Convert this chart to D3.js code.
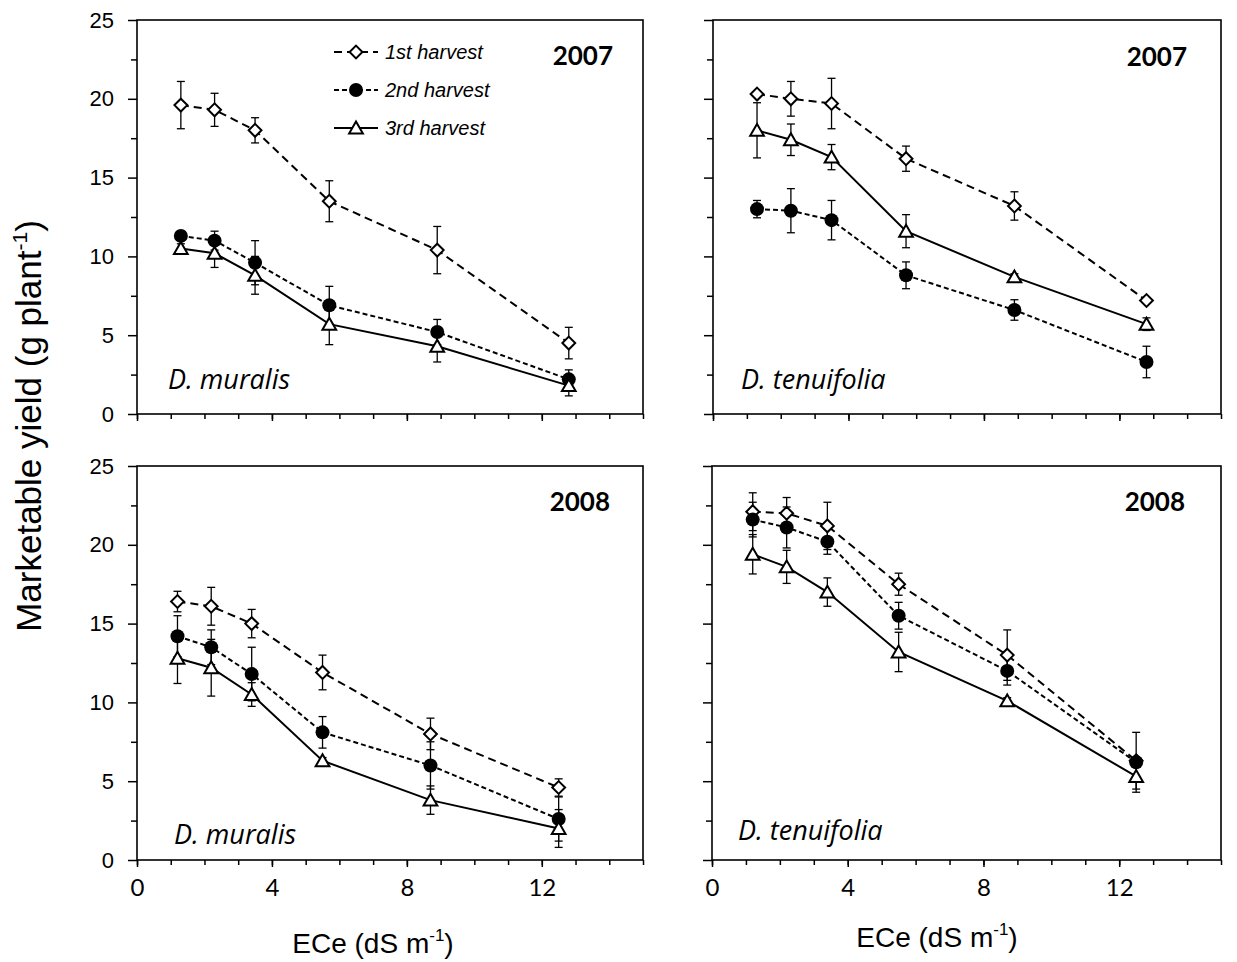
<!DOCTYPE html>
<html><head><meta charset="utf-8">
<script src="https://cdn.jsdelivr.net/npm/d3@7"></script>
<style>body{margin:0;background:#fff}svg{display:block}</style>
</head><body>
<svg id="c" width="1237" height="962"></svg>
<script>
// ---- data ----
const ece2007 = [1.3, 2.3, 3.5, 5.7, 8.9, 12.8];
const ece2008 = [1.2, 2.2, 3.4, 5.5, 8.7, 12.5];
const harvests = ["1st harvest", "2nd harvest", "3rd harvest"];
const yTicks = [0, 5, 10, 15, 20, 25];
const xTicks = [0, 4, 8, 12];

// D. muralis 2007
const mur07_h1 = [19.6, 19.3, 18.0, 13.5, 10.4, 4.5];
const mur07_h1_se = [1.5, 1.05, 0.8, 1.3, 1.5, 1.0];
const mur07_h2 = [11.3, 11.0, 9.6, 6.9, 5.2, 2.2];
const mur07_h2_se = [0.3, 0.6, 1.4, 1.2, 0.8, 0.6];
const mur07_h3 = [10.5, 10.2, 8.8, 5.7, 4.3, 1.8];
const mur07_h3_se = [0.3, 0.9, 1.2, 1.3, 1.0, 0.65];
// D. tenuifolia 2007
const ten07_h1 = [20.3, 20.0, 19.7, 16.2, 13.2, 7.2];
const ten07_h1_se = [0.2, 1.1, 1.6, 0.8, 0.9, 0.15];
const ten07_h2 = [13.0, 12.9, 12.3, 8.8, 6.6, 3.3];
const ten07_h2_se = [0.55, 1.4, 1.25, 0.85, 0.65, 1.0];
const ten07_h3 = [18.0, 17.4, 16.3, 11.6, 8.7, 5.7];
const ten07_h3_se = [1.75, 1.0, 0.8, 1.05, 0.2, 0.4];
// D. muralis 2008
const mur08_h1 = [16.4, 16.1, 15.0, 11.9, 8.0, 4.6];
const mur08_h1_se = [0.65, 1.2, 0.9, 1.1, 1.0, 0.55];
const mur08_h2 = [14.2, 13.5, 11.8, 8.1, 6.0, 2.6];
const mur08_h2_se = [1.3, 1.1, 1.7, 1.0, 1.5, 1.4];
const mur08_h3 = [12.8, 12.2, 10.5, 6.3, 3.8, 2.0];
const mur08_h3_se = [1.6, 1.8, 0.75, 0.2, 0.9, 1.2];
// D. tenuifolia 2008
const ten08_h1 = [22.1, 22.0, 21.2, 17.5, 13.0, 6.3];
const ten08_h1_se = [1.2, 1.0, 1.5, 0.7, 1.6, 0.2];
const ten08_h2 = [21.6, 21.1, 20.2, 15.5, 12.0, 6.2];
const ten08_h2_se = [1.1, 1.3, 0.8, 0.85, 0.9, 1.9];
const ten08_h3 = [19.4, 18.6, 17.0, 13.2, 10.1, 5.3];
const ten08_h3_se = [1.25, 1.05, 0.9, 1.25, 0.2, 0.8];

// ---- layout ----
const panels = [
  {x0:137, x1:643, y0:20,  y1:414, ece:ece2007, year:"2007", sp:"D. muralis",
   s:[[mur07_h1,mur07_h1_se],[mur07_h2,mur07_h2_se],[mur07_h3,mur07_h3_se]],
   yLabels:true, xLabels:false, legend:true, yearX:613, yearY:65, spX:168, spY:389},
  {x0:713, x1:1221, y0:20, y1:414, ece:ece2007, year:"2007", sp:"D. tenuifolia",
   s:[[ten07_h1,ten07_h1_se],[ten07_h2,ten07_h2_se],[ten07_h3,ten07_h3_se]],
   yLabels:false, xLabels:false, legend:false, yearX:1187, yearY:66, spX:741, spY:389},
  {x0:137, x1:643, y0:466, y1:860, ece:ece2008, year:"2008", sp:"D. muralis",
   s:[[mur08_h1,mur08_h1_se],[mur08_h2,mur08_h2_se],[mur08_h3,mur08_h3_se]],
   yLabels:true, xLabels:true, legend:false, yearX:610, yearY:511, spX:174, spY:844},
  {x0:712, x1:1221, y0:466, y1:860, ece:ece2008, year:"2008", sp:"D. tenuifolia",
   s:[[ten08_h1,ten08_h1_se],[ten08_h2,ten08_h2_se],[ten08_h3,ten08_h3_se]],
   yLabels:false, xLabels:true, legend:false, yearX:1185, yearY:511, spX:738, spY:840}
];
const dashes = ["8,5", "5,3", null];
const svg = d3.select("#c");

function marker(g, k, cx, cy) {
  if (k === 0) {
    g.append("path").attr("d", d3.symbol(d3.symbolDiamond2, 105)())
      .attr("transform", `translate(${cx},${cy})`)
      .attr("fill", "#fff").attr("stroke", "#000").attr("stroke-width", 2);
  } else if (k === 1) {
    g.append("circle").attr("cx", cx).attr("cy", cy).attr("r", 7).attr("fill", "#000");
  } else {
    g.append("path").attr("d", d3.symbol(d3.symbolTriangle2, 135)())
      .attr("transform", `translate(${cx},${cy + 1.5})`)
      .attr("fill", "#fff").attr("stroke", "#000").attr("stroke-width", 2);
  }
}

panels.forEach(p => {
  const x = d3.scaleLinear().domain([0, 15]).range([p.x0, p.x1]);
  const y = d3.scaleLinear().domain([0, 25]).range([p.y1, p.y0]);
  const g = svg.append("g");

  // minor y ticks
  g.append("g").attr("transform", `translate(${p.x0},0)`)
    .call(d3.axisLeft(y).tickValues(d3.range(2.5, 25, 5)).tickSize(6).tickFormat(""))
    .call(a => a.select(".domain").remove())
    .call(a => a.selectAll("line").attr("stroke-width", 1.5));
  // major y ticks
  g.append("g").attr("transform", `translate(${p.x0},0)`)
    .call(d3.axisLeft(y).tickValues(yTicks).tickSize(9).tickPadding(14).tickFormat(p.yLabels ? d3.format("d") : ""))
    .call(a => a.select(".domain").remove())
    .call(a => a.selectAll("line").attr("stroke-width", 1.5))
    .call(a => a.selectAll("text").attr("font-family", "'Liberation Sans', Arial, sans-serif").attr("font-size", 22).attr("fill", "#000"));
  // minor x ticks
  g.append("g").attr("transform", `translate(0,${p.y1})`)
    .call(d3.axisBottom(x).tickValues(d3.range(0, 16, 1)).tickSize(5).tickFormat(""))
    .call(a => a.select(".domain").remove())
    .call(a => a.selectAll("line").attr("stroke-width", 1.5));
  // major x ticks
  g.append("g").attr("transform", `translate(0,${p.y1})`)
    .call(d3.axisBottom(x).tickValues(xTicks).tickSize(7).tickPadding(12).tickFormat(p.xLabels ? d3.format("d") : ""))
    .call(a => a.select(".domain").remove())
    .call(a => a.selectAll("line").attr("stroke-width", 1.5))
    .call(a => a.selectAll("text").attr("font-family", "Lato, sans-serif").attr("font-size", 24).attr("fill", "#000"));

  // frame
  g.append("rect").attr("x", p.x0).attr("y", p.y0).attr("width", p.x1 - p.x0).attr("height", p.y1 - p.y0)
    .attr("fill", "none").attr("stroke", "#000").attr("stroke-width", 1.6);

  // error bars
  p.s.forEach(([vals, se]) => {
    vals.forEach((v, i) => {
      const cx = x(p.ece[i]);
      const eg = g.append("g").attr("stroke", "#000").attr("stroke-width", 1.3);
      eg.append("line").attr("x1", cx).attr("x2", cx).attr("y1", y(v + se[i])).attr("y2", y(v - se[i]));
      eg.append("line").attr("x1", cx - 4).attr("x2", cx + 4).attr("y1", y(v + se[i])).attr("y2", y(v + se[i]));
      eg.append("line").attr("x1", cx - 4).attr("x2", cx + 4).attr("y1", y(v - se[i])).attr("y2", y(v - se[i]));
    });
  });
  // lines
  const line = d3.line().x((d, i) => x(p.ece[i])).y(d => y(d));
  p.s.forEach(([vals], k) => {
    g.append("path").datum(vals).attr("d", line).attr("fill", "none").attr("stroke", "#000")
      .attr("stroke-width", 2).attr("stroke-dasharray", dashes[k]);
  });
  // markers
  p.s.forEach(([vals], k) => {
    vals.forEach((v, i) => marker(g, k, x(p.ece[i]), y(v)));
  });

  // year
  g.append("text").attr("x", p.yearX).attr("y", p.yearY).attr("text-anchor", "end")
    .attr("font-family", "Lato, sans-serif").attr("font-weight", "bold").attr("font-size", 26).text(p.year);
  // species
  g.append("text").attr("x", p.spX).attr("y", p.spY)
    .attr("font-family", "'Open Sans', sans-serif").attr("font-style", "italic").attr("font-size", 27).text(p.sp);

  // legend
  if (p.legend) {
    const ly = [52, 90, 128];
    harvests.forEach((h, k) => {
      const lg = g.append("g");
      lg.append("line").attr("x1", 334).attr("x2", 378).attr("y1", ly[k]).attr("y2", ly[k])
        .attr("stroke", "#000").attr("stroke-width", 2).attr("stroke-dasharray", dashes[k]);
      marker(lg, k, 356, ly[k]);
      lg.append("text").attr("x", 385).attr("y", ly[k] + 7)
        .attr("font-family", "'Liberation Sans', Arial, sans-serif").attr("font-style", "italic")
        .attr("font-size", 20).text(h);
    });
  }
});

// axis titles
const xt = [{x: 373, y: 953}, {x: 937, y: 947}];
xt.forEach(t => {
  const tx = svg.append("text").attr("x", t.x).attr("y", t.y).attr("text-anchor", "middle")
    .attr("font-family", "'Liberation Sans', Arial, sans-serif").attr("font-size", 28);
  tx.append("tspan").text("ECe (dS m");
  tx.append("tspan").attr("font-size", 17).attr("dy", -12).text("-1");
  tx.append("tspan").attr("dy", 12).text(")");
});
const yt = svg.append("text").attr("transform", "translate(41,426) rotate(-90)").attr("text-anchor", "middle")
  .attr("font-family", "'Liberation Sans', Arial, sans-serif").attr("font-size", 35);
yt.append("tspan").text("Marketable yield (g plant");
yt.append("tspan").attr("font-size", 21).attr("dy", -14).text("-1");
yt.append("tspan").attr("dy", 14).text(")");
</script>
</body></html>
